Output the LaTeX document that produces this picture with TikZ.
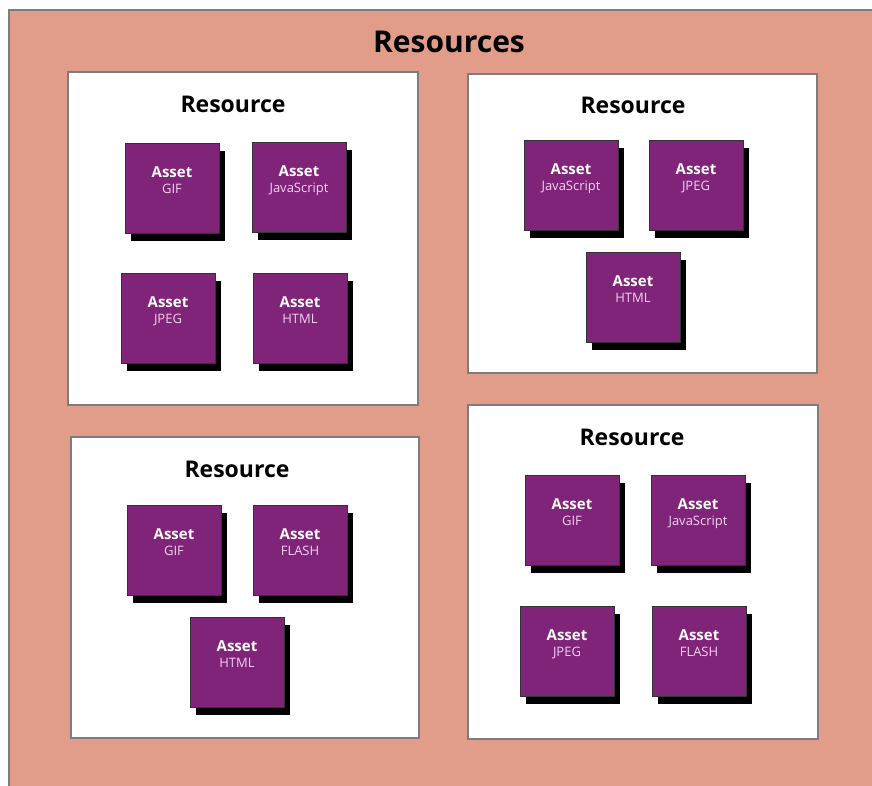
\documentclass[tikz,border=0pt]{standalone}
\usepackage{fontspec}
\setmainfont{Open Sans}
\usetikzlibrary{shadows}

\definecolor{outerfill}{RGB}{226,157,138}
\definecolor{rimgray}{RGB}{125,125,125}
\definecolor{assetfill}{RGB}{128,36,122}
\definecolor{kindpink}{RGB}{242,210,240}

\tikzset{
  resources/.style={draw=rimgray, line width=1.6pt, fill=outerfill},
  resource/.style={draw=rimgray, line width=1.6pt, fill=white},
  maintitle/.style={font=\bfseries\fontsize{30}{30}\selectfont},
  restitle/.style={font=\bfseries\fontsize{23}{23}\selectfont},
  asset/.style={draw=black!80, line width=0.6pt, fill=assetfill,
    minimum width=94pt, minimum height=90pt, inner sep=0pt,
    drop shadow={shadow xshift=6pt, shadow yshift=-8pt, fill=black, opacity=1}},
  assettext/.style={anchor=north, yshift=-24pt, inner sep=0pt, align=center,
    text=white, font=\bfseries\fontsize{15}{16}\selectfont},
}

\begin{document}
\begin{tikzpicture}[x=1pt, y=-1pt]
\useasboundingbox (0,0) rectangle (872,785);
\fill[white] (0,0) rectangle (872,785);
\draw[resources] (9,10) rectangle (885,800);
\node[maintitle] (resources) at (449,42) {Resources};

\draw[resource] (68,72) rectangle (418,405);
\draw[resource] (468,74) rectangle (817,373);
\draw[resource] (71,437) rectangle (419,738);
\draw[resource] (468,405) rectangle (818,739);

\node[restitle] (res-tl) at (233,104) {Resource};
\node[restitle] (res-tr) at (633,105) {Resource};
\node[restitle] (res-bl) at (237,469) {Resource};
\node[restitle] (res-br) at (632,437) {Resource};

\foreach \n/\x/\y/\k in {
  tl-gif/172/188/GIF, tl-js/299/187/JavaScript, tl-jpeg/168/318/JPEG, tl-html/300/318/HTML,
  tr-js/571/185/JavaScript, tr-jpeg/696/185/JPEG, tr-html/633/297/HTML,
  bl-gif/174/550/GIF, bl-flash/300/550/FLASH, bl-html/237/662/HTML,
  br-gif/572/520/GIF, br-js/698/520/JavaScript, br-jpeg/567/651/JPEG, br-flash/699/651/FLASH}
{
  \node[asset] (\n) at (\x,\y) {};
  \node[assettext] (\n-t) at (\n.north) {Asset\\{\mdseries\fontsize{13}{16}\selectfont\color{kindpink}\k}};
}
\end{tikzpicture}
\end{document}
